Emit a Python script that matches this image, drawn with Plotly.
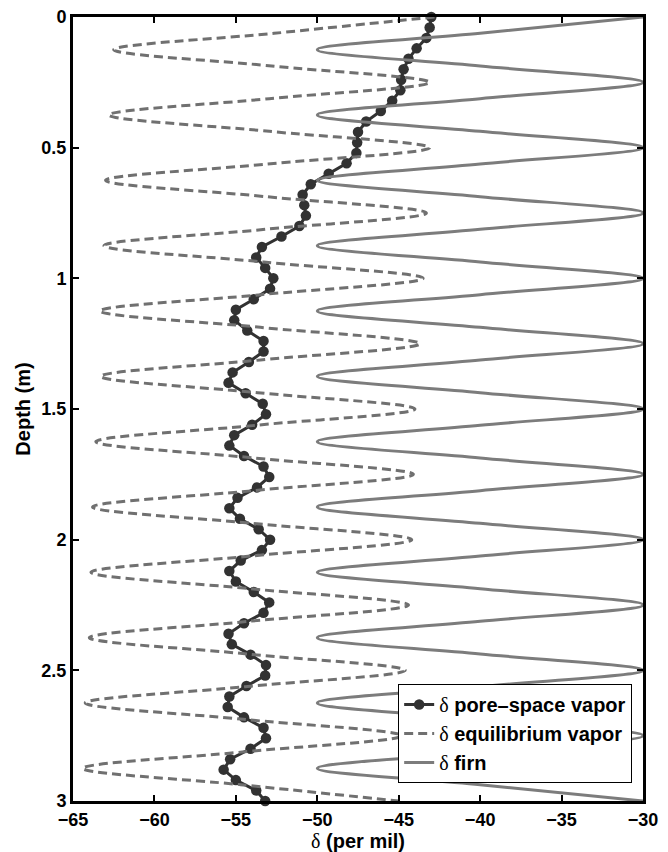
import plotly.graph_objects as go

# ---- data ----
# pore-space vapor (markers every 0.04 m)
pore_depth = [round(0.04 * k, 2) for k in range(76)]
pore_delta = [-43.0, -43.1, -43.3, -43.9, -44.4, -44.7, -44.85, -44.9, -45.4, -46.1,
              -47.0, -47.5, -47.55, -47.6, -48.2, -49.3, -50.4, -50.9, -50.8, -50.7,
              -51.1, -52.2, -53.4, -53.75, -53.2, -52.7, -52.9, -53.9, -55.0, -55.1,
              -54.3, -53.3, -53.3, -54.2, -55.2, -55.45, -54.4, -53.35, -53.15, -54.0,
              -55.1, -55.4, -54.5, -53.3, -52.95, -53.7, -54.9, -55.4, -54.75, -53.6,
              -52.9, -53.4, -54.7, -55.4, -55.0, -53.9, -52.95, -53.3, -54.5, -55.45,
              -55.25, -54.1, -53.15, -53.2, -54.35, -55.4, -55.5, -54.5, -53.3, -53.15,
              -54.1, -55.35, -55.75, -55.0, -53.75, -53.2]

# equilibrium vapor and firn, read every 1/16 m
curve_depth = [k / 16 for k in range(49)]
equil_delta = [-42.8, -52.65, -62.5, -52.8, -43.1, -52.95, -62.8, -52.95,
               -43.1, -53.05, -63.0, -53.15, -43.3, -53.2, -63.1, -53.3,
               -43.5, -53.45, -63.35, -53.5, -43.7, -53.5, -63.3, -53.65,
               -44.0, -53.8, -63.6, -53.85, -44.1, -53.95, -63.8, -54.0,
               -44.2, -54.05, -63.9, -54.15, -44.4, -54.2, -64.0, -54.3,
               -44.6, -54.43, -64.25, -54.53, -44.8, -54.6, -64.4, -54.7,
               -45.0]
firn_delta = [-30, -40, -50, -40, -30, -40, -50, -40,
              -30, -40, -50, -40, -30, -40, -50, -40,
              -30, -40, -50, -40, -30, -40, -50, -40,
              -30, -40, -50, -40, -30, -40, -50, -40,
              -30, -40, -50, -40, -30, -40, -50, -40,
              -30, -40, -50, -40, -30, -40, -50, -40,
              -30]

x_ticks = [-65, -60, -55, -50, -45, -40, -35, -30]
y_ticks = [0, 0.5, 1, 1.5, 2, 2.5, 3]
y_ticktext = ["0", "0.5", "1", "1.5", "2", "2.5", "3"]

D = "<span style=\"font-family:'Liberation Serif'\">δ</span>"

fig = go.Figure()
fig.add_trace(go.Scatter(
    x=pore_delta, y=pore_depth, mode="lines+markers",
    name=D + " <b>pore–space vapor</b>",
    line=dict(color="#323232", width=3),
    marker=dict(color="#323232", size=10.5),
    cliponaxis=False))
fig.add_trace(go.Scatter(
    x=equil_delta, y=curve_depth, mode="lines",
    name=D + " <b>equilibrium vapor</b>",
    line=dict(color="#707070", width=3, dash="9px,5px", shape="spline")))
fig.add_trace(go.Scatter(
    x=firn_delta, y=curve_depth, mode="lines",
    name=D + " <b>firn</b>",
    line=dict(color="#7c7c7c", width=3, shape="spline")))

axis_common = dict(
    showline=True, linewidth=3, linecolor="black", mirror="ticks",
    ticks="inside", ticklen=6, tickwidth=2, tickcolor="black",
    showgrid=False, zeroline=False, automargin=False,
    tickfont=dict(family="Liberation Sans", size=18, color="black", weight="bold"),
)

fig.update_layout(
    width=668, height=852,
    margin=dict(l=73, r=25, t=17, b=51),
    paper_bgcolor="white", plot_bgcolor="white",
    font=dict(family="Liberation Sans", color="black"),
    xaxis=dict(range=[-65, -30], tickvals=x_ticks, **axis_common,
               title=dict(text=D + " <b>(per mil)</b>", standoff=5,
                          font=dict(family="Liberation Sans", size=20))),
    yaxis=dict(range=[3, 0], tickvals=y_ticks, ticktext=y_ticktext, **axis_common,
               title=dict(text="<b>Depth (m)</b>", standoff=6,
                          font=dict(family="Liberation Sans", size=20))),
    legend=dict(x=0.981, xanchor="right", y=0.023, yanchor="bottom",
                bgcolor="white", bordercolor="black", borderwidth=1,
                font=dict(family="Liberation Sans", size=20, color="black"),
                itemwidth=30, tracegroupgap=0),
    showlegend=True,
)

fig.write_html("out.html")
